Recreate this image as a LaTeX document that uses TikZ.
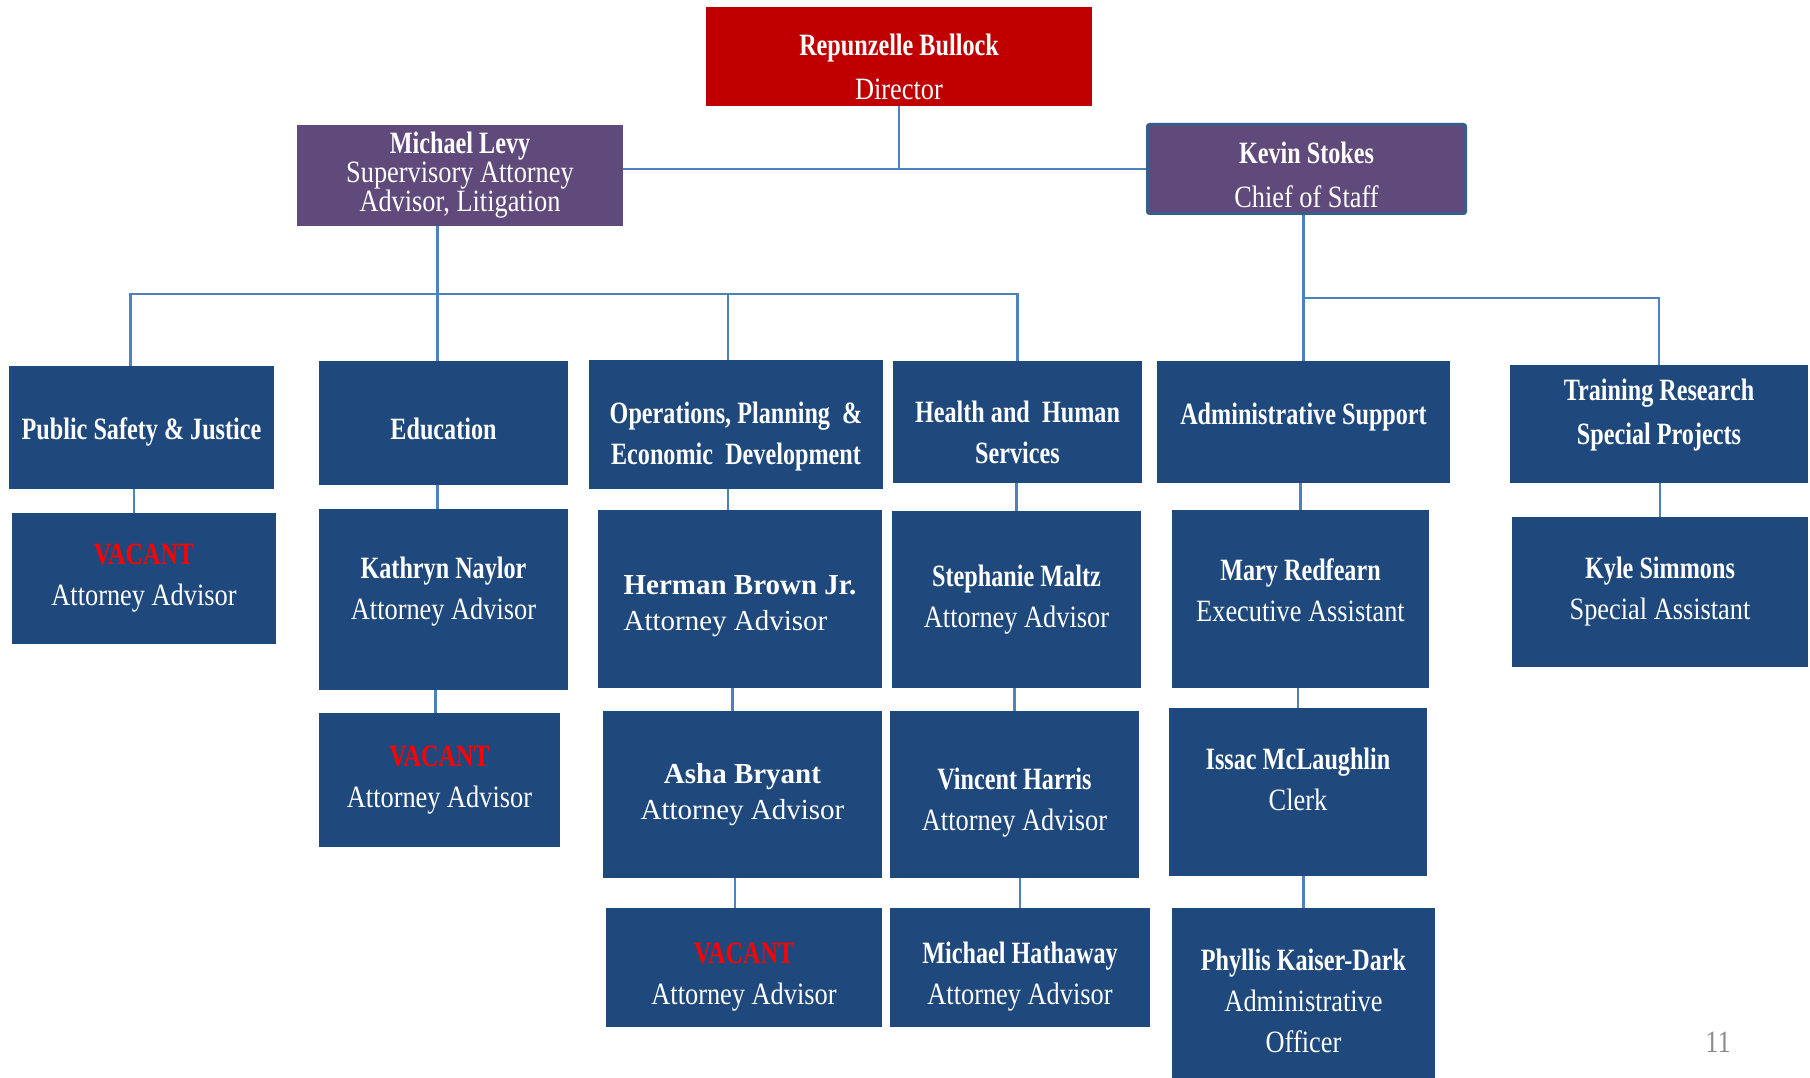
\documentclass[tikz,border=0pt]{standalone}
\usepackage{fontspec}
\setmainfont{Liberation Serif}[FakeStretch=0.85]
\newfontfamily\namefont{Liberation Serif}[FakeStretch=0.78]
\newfontfamily\widefont{Liberation Serif}
\definecolor{boxblue}{HTML}{1F497D}
\definecolor{leadpurple}{HTML}{604A7B}
\definecolor{dirred}{HTML}{C00000}
\definecolor{linkblue}{HTML}{4F81BD}
\definecolor{stokesedge}{HTML}{385D8A}
\definecolor{vacred}{HTML}{FF0000}
\definecolor{pagegray}{HTML}{8C8C8C}
\newcommand{\who}[1]{{\namefont\bfseries #1}}
\newcommand{\vacant}{{\color{vacred}\who{VACANT}}}
% move the text of a box down / up (pt)
\newcommand{\sinkby}[1]{\rule{0pt}{\dimexpr 21.5pt+#1pt+#1pt\relax}}
\newcommand{\liftby}[1]{\rule[-\dimexpr 5pt+#1pt+#1pt\relax]{0pt}{0pt}}

\begin{document}
\begin{tikzpicture}[x=1pt,y=-1pt,
        box/.style={rectangle,fill=boxblue,text=white,align=center,inner sep=0pt,
            font=\fontsize{31}{41}\selectfont},
        size/.style 2 args={minimum width=#1,minimum height=#2},
        link/.style={draw=linkblue,line width=2.5pt},
        elbow/.style={to path={-- (\tikztostart |- #1) -| (\tikztotarget)}}]

    \useasboundingbox (0,0) rectangle (1810,1078);

    % top level
    \node[box] [size={386}{99},fill=dirred,font=\fontsize{31}{44}\selectfont] (dir) at (899,56.5) {\sinkby{10}\who{Repunzelle Bullock}\\Director};
    \node[box] [size={326}{101},fill=leadpurple,font=\fontsize{31}{29}\selectfont] (levy) at (460,175.5) {\who{Michael Levy}\\Supervisory Attorney\\Advisor, Litigation};
    \node[box] [size={318}{89},fill=leadpurple,draw=stokesedge,line width=3pt,rounded corners=2pt,font=\fontsize{31}{44}\selectfont] (stokes) at (1306.5,169) {\sinkby{6}\who{Kevin Stokes}\\Chief of Staff};

    % divisions
    \node[box] [size={265}{123}] (ps) at (141.5,427.5) {\sinkby{5}\who{Public Safety \& Justice}};
    \node[box] [size={249}{124}] (edu) at (443.5,423) {\sinkby{6}\who{Education}};
    \node[box] [size={294}{129}] (ops) at (736,424.5) {\sinkby{12}\who{Operations, Planning\ \ \&}\\\who{Economic\ \ Development}};
    \node[box] [size={249}{122}] (hhs) at (1017.5,422) {\sinkby{10}\who{Health and\ \ Human}\\\who{Services}};
    \node[box] [size={293}{122}] (admin) at (1303.5,422) {\who{Administrative Support}\liftby{6}};
    \node[box] [size={298}{118},font=\fontsize{31}{44}\selectfont] (train) at (1659,424) {\who{Training Research}\\\who{Special Projects}\liftby{10}};

    % staff
    \node[box] [size={264}{131}] (vac1) at (144,578.5) {\vacant\\Attorney Advisor};
    \node[box] [size={249}{181}] (kath) at (443.5,599.5) {\who{Kathryn Naylor}\\Attorney Advisor\liftby{9}};
    \node[box] [size={284}{178},align=left,font=\fontsize{29}{36}\selectfont\widefont] (herm) at (740,599) {\sinkby{6}\textbf{Herman Brown Jr.}\\Attorney Advisor};
    \node[box] [size={249}{177}] (steph) at (1016.5,599.5) {\who{Stephanie Maltz}\\Attorney Advisor};
    \node[box] [size={257}{178}] (mary) at (1300.5,599) {\who{Mary Redfearn}\\Executive Assistant\liftby{6}};
    \node[box] [size={296}{150}] (kyle) at (1660,592) {\who{Kyle Simmons}\\Special Assistant};
    \node[box] [size={241}{134}] (vac2) at (439.5,780) {\vacant\\Attorney Advisor};
    \node[box] [size={279}{167},font=\fontsize{29}{36}\selectfont\widefont] (asha) at (742.5,794.5) {\textbf{Asha Bryant}\\Attorney Advisor};
    \node[box] [size={249}{167}] (vinc) at (1014.5,794.5) {\sinkby{8}\who{Vincent Harris}\\Attorney Advisor};
    \node[box] [size={258}{168}] (issac) at (1298,792) {\who{Issac McLaughlin}\\Clerk\liftby{10}};
    \node[box] [size={276}{119}] (vac3) at (744,967.5) {\sinkby{9}\vacant\\Attorney Advisor};
    \node[box] [size={260}{119}] (hath) at (1020,967.5) {\sinkby{9}\who{Michael Hathaway}\\Attorney Advisor};
    \node[box] [size={263}{170}] (phyl) at (1303.5,993) {\sinkby{8}\who{Phyllis Kaiser-Dark}\\Administrative\\Officer};

    \node[font=\fontsize{31}{31}\selectfont,text=pagegray] (pgnum) at (1718,1042) {11};

    \coordinate (busL) at (600,294);
    \coordinate (busR) at (1500,298);

    \path[link]
    (dir.south) edge (dir.south |- stokes.west)
    (levy.east |- stokes.west) edge (stokes.west)
    ([xshift=-6pt]levy.south -| edu.north) edge ([xshift=-6pt]edu.north)
    ([xshift=-11pt]ps.north) edge[elbow=busL] (hhs.north)
    ([xshift=-8pt]ops.north) edge ([xshift=-8pt]ops.north |- busL)
    (stokes.south -| admin.north) edge (admin.north)
    (admin.north) edge[elbow=busR] (train.north)
    ([xshift=-10pt]ps.south -| vac1) edge ([xshift=-10pt]vac1.north)
    ([xshift=-6pt]edu.south -| kath) edge ([xshift=-6pt]kath.north)
    ([xshift=-12pt]ops.south -| herm) edge ([xshift=-12pt]herm.north)
    (hhs.south -| steph) edge (steph)
    (admin.south -| mary) edge (mary)
    (train.south -| kyle) edge (kyle)
    ([xshift=-4pt]kath.south -| vac2) edge ([xshift=-4pt]vac2.north)
    ([xshift=-10pt]herm.south -| asha) edge ([xshift=-10pt]asha.north)
    (steph.south -| vinc) edge (vinc)
    (mary.south -| issac) edge (issac)
    ([xshift=-9pt]asha.south -| vac3) edge ([xshift=-9pt]vac3.north)
    (vinc.south -| hath) edge (hath)
    (issac.south -| phyl) edge (phyl)
    ;
\end{tikzpicture}
\end{document}
